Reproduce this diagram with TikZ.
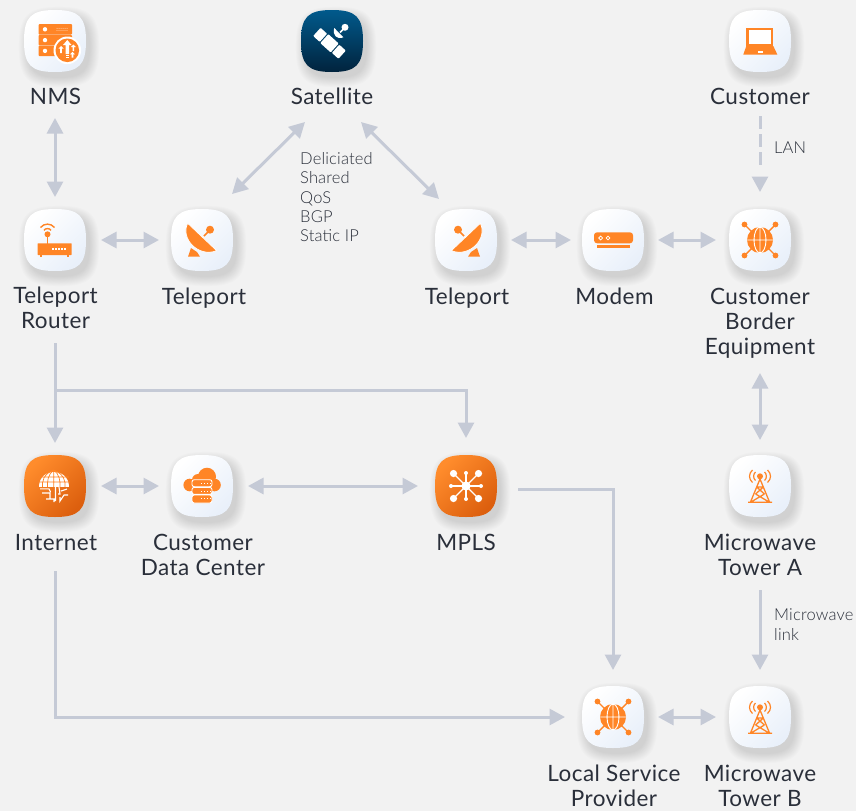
\documentclass[tikz,border=0pt]{standalone}
\usepackage{fontspec}
\setmainfont[LetterSpace=2]{Lato}
\newfontfamily\lightf[LetterSpace=1]{Lato Light}
\usetikzlibrary{arrows.meta}
\definecolor{bgc}{HTML}{F2F2F2}
\definecolor{linec}{HTML}{C5CAD6}
\definecolor{orng}{HTML}{FF8526}
\definecolor{txtc}{HTML}{2A2F3A}
\definecolor{tilelo}{HTML}{E9F0FA}
\definecolor{orhi}{HTML}{FF8C2C}
\definecolor{orlo}{HTML}{DC5F0E}
\definecolor{dkhi}{HTML}{015A8C}
\definecolor{dklo}{HTML}{01233D}
\newcommand\sq{(-31,0) .. controls (-31,-24) and (-24,-31) .. (0,-31) .. controls (24,-31) and (31,-24) .. (31,0) .. controls (31,24) and (24,31) .. (0,31) .. controls (-24,31) and (-31,24) .. (-31,0) -- cycle}
\tikzset{
  x=1pt,y=-1pt,
  whitetile/.style={left color=white,right color=tilelo,shading angle=45},
  orangetile/.style={left color=orhi,right color=orlo,shading angle=45},
  darktile/.style={top color=dkhi,bottom color=dklo},
  tilenode/.style={minimum size=62pt,inner sep=0pt,outer sep=0pt},
  lbl/.style={text=txtc,align=center,font=\fontsize{22.5}{25.3}\selectfont,inner sep=0pt,text depth=0pt},
  note/.style={text=txtc,align=left,anchor=west,font=\lightf\fontsize{16.5}{19.4}\selectfont,inner sep=0pt},
  conn/.style={draw=linec,line width=3pt,line join=miter},
  onehead/.style={conn,-{Triangle[width=16pt,length=15.5pt]}},
  twohead/.style={conn,{Triangle[width=16pt,length=15.5pt]}-{Triangle[width=16pt,length=15.5pt]}},
}
\newcommand\tile[5]{%
  \begin{scope}[shift={(#2,#3)}]
    \foreach \s in {1.30,1.27,...,1.0}{\fill[black,opacity=.011,shift={(4,6)},scale=\s] \sq;}
    \shade[#4] \sq;
    #5
  \end{scope}
  \node[tilenode] (#1) at (#2,#3) {};
}
\newcommand\iconnms{%
  \foreach \y in {-17,-6.2,4.6}{\fill[orng,rounded corners=1pt] (-16.5,\y) rectangle (17,\y+10.6);
    \fill[white] (-10,\y+5.3) circle (2.2);}
  \foreach \x in {2,4,6,8,10,12}{\fill[white] (\x,-12.7) circle (.45);\fill[white] (\x,-10.5) circle (.45);}
  \fill[white] (12.3,9.3) circle (13.8);
  \fill[orng] (12.3,9.3) circle (11.8);
  \fill[white] (12.3,-1) -- (16.5,4) -- (14,4) -- (14,13) -- (10.6,13) -- (10.6,4) -- (8,4) -- cycle;
  \fill[white] (10.6,14) rectangle (14,15); \fill[white] (10.6,16) rectangle (14,17);
  \fill[white] (6,5) -- (8.6,7.6) -- (6.8,7.6) -- (6.8,12) -- (5.2,12) -- (5.2,7.6) -- (3.4,7.6) -- cycle;
  \fill[white] (18.4,3.5) -- (21,6) -- (19.2,6) -- (19.2,10) -- (17.6,10) -- (17.6,6) -- (15.8,6) -- cycle;
  \fill[white] (17.5,11) -- (20,13.4) -- (18.3,13.4) -- (18.3,16.5) -- (16.7,16.5) -- (16.7,13.4) -- (15,13.4) -- cycle;
}
\newcommand\icondish{%
  \fill[orng] (-14,16.7) -- (-11,8) -- (-5,12) -- (-2,16.7) -- cycle;
  \fill[orng,draw=white,line width=.7pt] (-14.3,-16.7) .. controls (-22,-2) and (-4,18) .. (14.7,10.7) -- cycle;
  \draw[orng,line width=1.6pt] (6,-8) -- (2,-4);
  \fill[orng] (8,-10.3) circle (4);
}
\newcommand\iconrouter{%
  \fill[orng,rounded corners=.6pt] (-17.5,3.3) rectangle (16.7,15);
  \fill[orng] (-15,15) rectangle (-13,17); \fill[orng] (12,15) rectangle (14,17);
  \foreach \x in {-2,1,4,7,10}{\fill[white] (\x-.7,8) rectangle (\x+.7,10.3);}
  \draw[orng,line width=1.6pt] (-7.5,-5.7) -- (-7.5,4);
  \fill[orng] (-7.5,-5.7) circle (3);
  \draw[orng,line width=1.4pt] (-11,-9.7) .. controls (-9.5,-12) and (-5.5,-12) .. (-4,-9.7);
  \draw[orng,line width=1.4pt] (-14.5,-12.5) .. controls (-11,-17) and (-4,-17) .. (-0.5,-12.5);
}
\newcommand\iconsat{%
  \begin{scope}[shift={(-2.5,2.3)},rotate=-42]
    \fill[white,rounded corners=.8pt] (-7,-6) rectangle (7,6);
    \fill[white,rounded corners=.8pt] (-17,-5.5) rectangle (-8.2,5.5);
    \fill[white,rounded corners=.8pt] (8.2,-5.5) rectangle (17,5.5);
  \end{scope}
  \fill[white] (2.3,-13) .. controls (0,-6) and (5,-1) .. (11.3,-3.7) -- cycle;
  \draw[white,line width=1.6pt] (8,-8.5) -- (12,-12.5);
  \fill[white] (13,-13.7) circle (3.5);
}
\newcommand\iconlaptop{%
  \fill[orng] (-13.7,-13.3) rectangle (13.3,6);
  \fill[white] (-11.3,-11) rectangle (11,3);
  \fill[orng] (-13.7,5) -- (13.3,5) -- (17.3,13.5) -- (-16.7,13.5) -- cycle;
  \fill[white] (-2.5,9.5) rectangle (3,11.5);
}
\newcommand\iconmodem{%
  \fill[orng,rounded corners=3pt] (-19,-7.7) rectangle (20,3.3);
  \fill[orng] (-15.7,5.3) rectangle (17,8);
  \draw[white,line width=.8pt] (-12.3,-2) circle (1.9) (-5,-2) circle (1.9);
}
\newcommand\iconglobe{%
  \foreach \a/\b in {-1/-1,1/-1,-1/1,1/1}{
    \draw[orng,line width=1.4pt] (\a*15.5,\b*15.5) -- (\a*8,\b*8);
    \fill[orng] (\a*15.5,\b*15.5) circle (2.9);}
  \fill[orng] (0,0) circle (13);
  \draw[white,line width=.9pt] (0,0) ellipse (6 and 13) (0,-13) -- (0,13) (-13,0) -- (13,0);
}
\newcommand\iconinternet{%
  \fill[white] (-16.3,1) .. controls (-16.3,-19.5) and (13.7,-19.5) .. (13.7,1) -- cycle;
  \draw[orng,line width=.7pt] (-16,-9) -- (14,-9) (-17,-4) -- (15,-4)
    (-1.3,-16) -- (-1.3,1) (-1.3,-16) .. controls (-7,-12) and (-8,-4) .. (-7.5,1)
    (-1.3,-16) .. controls (4.5,-12) and (5.5,-4) .. (5,1)
    (-1.3,-16) .. controls (-12,-12) and (-13,-4) .. (-12.5,1)
    (-1.3,-16) .. controls (9,-12) and (11,-4) .. (10,1);
  \draw[white,line width=1.1pt] (-15,2.8) -- (-6,2.8) -- (-4.5,6) (-13,7) -- (-5,7) -- (-5,12) (-9,13) -- (-1,13) -- (-1,16)
    (0.5,1) -- (0.5,15) (4,1) -- (5,8) -- (3,8) (5,11) -- (5,15) -- (9,9) -- (13,9) (6,5) -- (12,3);
}
\newcommand\icondc{%
  \fill[orng] (5,-9.3) circle (9) (-12.3,-1) circle (6.3) (12.5,-1) circle (6.3) (-4,-6) circle (6);
  \fill[orng] (-12.3,-2) rectangle (12.5,5.3);
  \foreach \y/\h in {-6.3/7,1.4/7,9/8}{
    \fill[orng,draw=white,line width=.9pt,rounded corners=2.2pt] (-10,\y) rectangle (10,\y+\h);
    \foreach \x in {-1,2,5,8}{\fill[white] (\x-.5,\y+3.2) rectangle (\x+.5,\y+4.1);}
  }
}
\newcommand\iconmpls{%
  \foreach \a/\b in {-1/-1,1/-1,-1/1,1/1}{
    \draw[white,line width=1.2pt] (0,0) -- (\a*12.5,\b*12.5);
    \fill[white] (\a*12.5,\b*12.5) circle (3.6);}
  \foreach \a/\b in {0/-13,0/13,-15/0,15/0}{
    \draw[white,line width=1.2pt] (0,0) -- (\a,\b);
    \fill[white] (\a,\b) circle (2);}
  \fill[white] (0,0) circle (4.6);
}
\newcommand\icontower{%
  \fill[orng] (0,-9.7) circle (3);
  \draw[orng,line width=1.2pt] (-4.5,-14) .. controls (-7,-12) and (-7,-7.5) .. (-4.5,-5.5)
    (4.5,-14) .. controls (7,-12) and (7,-7.5) .. (4.5,-5.5)
    (-7.5,-16) .. controls (-11.5,-12.5) and (-11.5,-7) .. (-7.5,-3.5)
    (7.5,-16) .. controls (11.5,-12.5) and (11.5,-7) .. (7.5,-3.5);
  \draw[orng,line width=1.3pt] (0,-7) -- (-9.5,16) (0,-7) -- (9.5,16) (-12,16.3) -- (12,16.3)
    (-3.3,1) -- (3.3,1) (-3.3,1) -- (4.4,8) (3.3,1) -- (-4.4,8) (4.4,8) -- (-9,16) (-4.4,8) -- (9,16);
}
\begin{document}
\begin{tikzpicture}
\useasboundingbox (0,0) rectangle (856,811);
\fill[bgc] (0,0) rectangle (856,811);

% tiles
\tile{nms}{55}{41}{whitetile}{\iconnms}
\tile{sat}{332}{41}{darktile}{\iconsat}
\tile{cust}{760}{41}{whitetile}{\iconlaptop}
\tile{router}{55}{240}{whitetile}{\iconrouter}
\tile{telea}{202}{240}{whitetile}{\icondish}
\tile{teleb}{466}{240}{whitetile}{\begin{scope}[xscale=-1]\icondish\end{scope}}
\tile{modem}{613}{240}{whitetile}{\iconmodem}
\tile{cbe}{760}{240}{whitetile}{\iconglobe}
\tile{inet}{55}{486}{orangetile}{\iconinternet}
\tile{dc}{202}{486}{whitetile}{\icondc}
\tile{mpls}{466}{486}{orangetile}{\iconmpls}
\tile{towa}{760}{486}{whitetile}{\icontower}
\tile{lsp}{613}{717}{whitetile}{\iconglobe}
\tile{towb}{760}{717}{whitetile}{\icontower}

% labels
\node[lbl] (lnms) at (55.5,96.3) {NMS};
\node[lbl] (lsat) at (332,96.3) {Satellite};
\node[lbl] (lcust) at (760,96.3) {Customer};
\node[lbl,anchor=north] (lrouter) at (55.5,286.5) {Teleport\\Router};
\node[lbl] (ltelea) at (204,296.3) {Teleport};
\node[lbl] (lteleb) at (467,296.3) {Teleport};
\node[lbl] (lmodem) at (614.5,296.3) {Modem};
\node[lbl,anchor=north] (lcbe) at (760,287.5) {Customer\\Border\\Equipment};
\node[lbl] (linet) at (56,542.3) {Internet};
\node[lbl,anchor=north] (ldc) at (203,533.5) {Customer\\Data Center};
\node[lbl] (lmpls) at (466,542.3) {MPLS};
\node[lbl,anchor=north] (ltowa) at (760,533.5) {Microwave\\Tower A};
\node[lbl,anchor=north] (llsp) at (614,764.5) {Local Service\\Provider};
\node[lbl,anchor=north] (ltowb) at (760,764.5) {Microwave\\Tower B};

% notes
\node[note,anchor=north west] (nserv) at (300,152) {Deliciated\\Shared\\QoS\\BGP\\Static IP};
\node[note] (nlan) at (774,147.5) {LAN};
\node[note,anchor=north west] (nmw) at (774,609) {Microwave\\link};

% free ends
\coordinate (sa) at (305,122);
\coordinate (sb) at (232,194);
\coordinate (sc) at (361,122);
\coordinate (sd) at (439,199);
\coordinate (j) at (55,390);

% connectors
\draw[twohead,shorten <=46pt,shorten >=12pt] (nms.south) -- (router.north);
\draw[twohead,shorten <=15pt,shorten >=12pt] (router.east) -- (telea.west);
\draw[twohead] (sa) -- (sb);
\draw[twohead] (sc) -- (sd);
\draw[twohead,shorten <=14pt,shorten >=11pt] (teleb.east) -- (modem.west);
\draw[twohead,shorten <=14pt,shorten >=13pt] (modem.east) -- (cbe.west);
\draw[conn,dash pattern=on 13pt off 5pt,shorten <=44pt,shorten >=44pt] (cust.south) -- (cbe.north);
\draw[onehead,shorten <=105pt,shorten >=17pt] (cust.south) -- (cbe.north);
\draw[twohead,shorten <=102pt,shorten >=15pt] (cbe.south) -- (towa.north);
\draw[onehead,shorten <=72pt,shorten >=12pt] (router.south) -- (inet.north);
\draw[onehead,shorten >=17pt] (j) -| (mpls.north);
\draw[twohead,shorten <=15pt,shorten >=12pt] (inet.east) -- (dc.west);
\draw[twohead,shorten <=15pt,shorten >=17pt] (dc.east) -- (mpls.west);
\draw[onehead,shorten <=21pt,shorten >=16pt] ([yshift=-3pt]mpls.east) -| (lsp.north);
\draw[onehead,shorten <=54pt,shorten >=17pt] (inet.south) |- (lsp.west);
\draw[twohead,shorten <=14pt,shorten >=13pt] (lsp.east) -- (towb.west);
\draw[onehead,shorten <=73pt,shorten >=16pt] (towa.south) -- (towb.north);
\end{tikzpicture}
\end{document}
